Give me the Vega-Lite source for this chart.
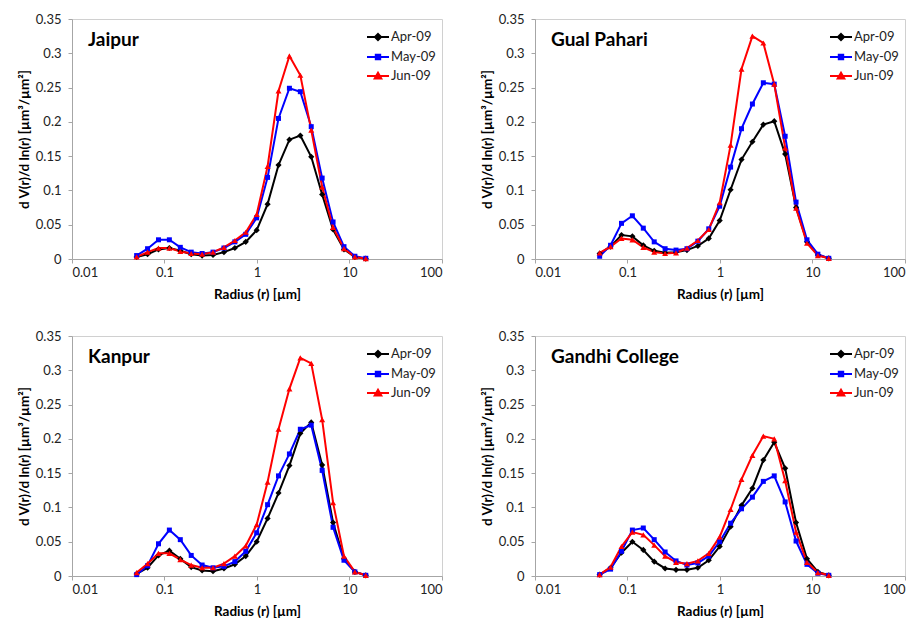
{
  "$schema": "https://vega.github.io/schema/vega-lite/v6.json",
  "padding": {"left": 16, "top": 12, "right": 0, "bottom": 0},
  "background": "white",
  "datasets": {
    "d": [
      {"site":"Jaipur","r":0.05,"Apr-09":0.003,"May-09":0.005,"Jun-09":0.003},
      {"site":"Jaipur","r":0.0656,"Apr-09":0.007,"May-09":0.015,"Jun-09":0.010},
      {"site":"Jaipur","r":0.0861,"Apr-09":0.014,"May-09":0.028,"Jun-09":0.016},
      {"site":"Jaipur","r":0.1129,"Apr-09":0.016,"May-09":0.028,"Jun-09":0.016},
      {"site":"Jaipur","r":0.1482,"Apr-09":0.012,"May-09":0.017,"Jun-09":0.011},
      {"site":"Jaipur","r":0.1945,"Apr-09":0.007,"May-09":0.010,"Jun-09":0.008},
      {"site":"Jaipur","r":0.2551,"Apr-09":0.005,"May-09":0.008,"Jun-09":0.007},
      {"site":"Jaipur","r":0.3347,"Apr-09":0.006,"May-09":0.010,"Jun-09":0.010},
      {"site":"Jaipur","r":0.4392,"Apr-09":0.010,"May-09":0.016,"Jun-09":0.017},
      {"site":"Jaipur","r":0.5763,"Apr-09":0.016,"May-09":0.025,"Jun-09":0.027},
      {"site":"Jaipur","r":0.7561,"Apr-09":0.025,"May-09":0.036,"Jun-09":0.039},
      {"site":"Jaipur","r":0.9921,"Apr-09":0.042,"May-09":0.060,"Jun-09":0.065},
      {"site":"Jaipur","r":1.3017,"Apr-09":0.080,"May-09":0.119,"Jun-09":0.135},
      {"site":"Jaipur","r":1.708,"Apr-09":0.137,"May-09":0.205,"Jun-09":0.245},
      {"site":"Jaipur","r":2.2411,"Apr-09":0.174,"May-09":0.249,"Jun-09":0.296},
      {"site":"Jaipur","r":2.9405,"Apr-09":0.180,"May-09":0.244,"Jun-09":0.268},
      {"site":"Jaipur","r":3.8582,"Apr-09":0.149,"May-09":0.193,"Jun-09":0.188},
      {"site":"Jaipur","r":5.0623,"Apr-09":0.094,"May-09":0.118,"Jun-09":0.105},
      {"site":"Jaipur","r":6.6423,"Apr-09":0.043,"May-09":0.054,"Jun-09":0.046},
      {"site":"Jaipur","r":8.7154,"Apr-09":0.014,"May-09":0.018,"Jun-09":0.015},
      {"site":"Jaipur","r":11.4354,"Apr-09":0.003,"May-09":0.004,"Jun-09":0.003},
      {"site":"Jaipur","r":15.0,"Apr-09":0.0005,"May-09":0.001,"Jun-09":0.0005},

      {"site":"Gual Pahari","r":0.05,"Apr-09":0.008,"May-09":0.004,"Jun-09":0.009},
      {"site":"Gual Pahari","r":0.0656,"Apr-09":0.018,"May-09":0.020,"Jun-09":0.018},
      {"site":"Gual Pahari","r":0.0861,"Apr-09":0.035,"May-09":0.052,"Jun-09":0.030},
      {"site":"Gual Pahari","r":0.1129,"Apr-09":0.033,"May-09":0.063,"Jun-09":0.028},
      {"site":"Gual Pahari","r":0.1482,"Apr-09":0.020,"May-09":0.045,"Jun-09":0.017},
      {"site":"Gual Pahari","r":0.1945,"Apr-09":0.012,"May-09":0.025,"Jun-09":0.010},
      {"site":"Gual Pahari","r":0.2551,"Apr-09":0.009,"May-09":0.015,"Jun-09":0.008},
      {"site":"Gual Pahari","r":0.3347,"Apr-09":0.010,"May-09":0.013,"Jun-09":0.009},
      {"site":"Gual Pahari","r":0.4392,"Apr-09":0.013,"May-09":0.015,"Jun-09":0.016},
      {"site":"Gual Pahari","r":0.5763,"Apr-09":0.019,"May-09":0.026,"Jun-09":0.027},
      {"site":"Gual Pahari","r":0.7561,"Apr-09":0.030,"May-09":0.044,"Jun-09":0.043},
      {"site":"Gual Pahari","r":0.9921,"Apr-09":0.056,"May-09":0.077,"Jun-09":0.082},
      {"site":"Gual Pahari","r":1.3017,"Apr-09":0.101,"May-09":0.134,"Jun-09":0.166},
      {"site":"Gual Pahari","r":1.708,"Apr-09":0.145,"May-09":0.190,"Jun-09":0.277},
      {"site":"Gual Pahari","r":2.2411,"Apr-09":0.171,"May-09":0.226,"Jun-09":0.325},
      {"site":"Gual Pahari","r":2.9405,"Apr-09":0.196,"May-09":0.257,"Jun-09":0.315},
      {"site":"Gual Pahari","r":3.8582,"Apr-09":0.201,"May-09":0.255,"Jun-09":0.255},
      {"site":"Gual Pahari","r":5.0623,"Apr-09":0.153,"May-09":0.179,"Jun-09":0.162},
      {"site":"Gual Pahari","r":6.6423,"Apr-09":0.075,"May-09":0.083,"Jun-09":0.074},
      {"site":"Gual Pahari","r":8.7154,"Apr-09":0.025,"May-09":0.028,"Jun-09":0.023},
      {"site":"Gual Pahari","r":11.4354,"Apr-09":0.006,"May-09":0.007,"Jun-09":0.005},
      {"site":"Gual Pahari","r":15.0,"Apr-09":0.001,"May-09":0.001,"Jun-09":0.001},

      {"site":"Kanpur","r":0.05,"Apr-09":0.003,"May-09":0.002,"Jun-09":0.005},
      {"site":"Kanpur","r":0.0656,"Apr-09":0.012,"May-09":0.015,"Jun-09":0.018},
      {"site":"Kanpur","r":0.0861,"Apr-09":0.030,"May-09":0.047,"Jun-09":0.033},
      {"site":"Kanpur","r":0.1129,"Apr-09":0.037,"May-09":0.067,"Jun-09":0.033},
      {"site":"Kanpur","r":0.1482,"Apr-09":0.025,"May-09":0.053,"Jun-09":0.024},
      {"site":"Kanpur","r":0.1945,"Apr-09":0.013,"May-09":0.030,"Jun-09":0.016},
      {"site":"Kanpur","r":0.2551,"Apr-09":0.008,"May-09":0.016,"Jun-09":0.012},
      {"site":"Kanpur","r":0.3347,"Apr-09":0.007,"May-09":0.012,"Jun-09":0.012},
      {"site":"Kanpur","r":0.4392,"Apr-09":0.011,"May-09":0.014,"Jun-09":0.018},
      {"site":"Kanpur","r":0.5763,"Apr-09":0.017,"May-09":0.021,"Jun-09":0.029},
      {"site":"Kanpur","r":0.7561,"Apr-09":0.029,"May-09":0.036,"Jun-09":0.044},
      {"site":"Kanpur","r":0.9921,"Apr-09":0.050,"May-09":0.063,"Jun-09":0.075},
      {"site":"Kanpur","r":1.3017,"Apr-09":0.084,"May-09":0.104,"Jun-09":0.137},
      {"site":"Kanpur","r":1.708,"Apr-09":0.121,"May-09":0.146,"Jun-09":0.214},
      {"site":"Kanpur","r":2.2411,"Apr-09":0.161,"May-09":0.178,"Jun-09":0.273},
      {"site":"Kanpur","r":2.9405,"Apr-09":0.208,"May-09":0.214,"Jun-09":0.318},
      {"site":"Kanpur","r":3.8582,"Apr-09":0.224,"May-09":0.220,"Jun-09":0.310},
      {"site":"Kanpur","r":5.0623,"Apr-09":0.162,"May-09":0.154,"Jun-09":0.228},
      {"site":"Kanpur","r":6.6423,"Apr-09":0.078,"May-09":0.071,"Jun-09":0.107},
      {"site":"Kanpur","r":8.7154,"Apr-09":0.025,"May-09":0.023,"Jun-09":0.029},
      {"site":"Kanpur","r":11.4354,"Apr-09":0.006,"May-09":0.006,"Jun-09":0.006},
      {"site":"Kanpur","r":15.0,"Apr-09":0.001,"May-09":0.001,"Jun-09":0.001},

      {"site":"Gandhi College","r":0.05,"Apr-09":0.002,"May-09":0.002,"Jun-09":0.002},
      {"site":"Gandhi College","r":0.0656,"Apr-09":0.012,"May-09":0.010,"Jun-09":0.013},
      {"site":"Gandhi College","r":0.0861,"Apr-09":0.034,"May-09":0.036,"Jun-09":0.043},
      {"site":"Gandhi College","r":0.1129,"Apr-09":0.050,"May-09":0.067,"Jun-09":0.064},
      {"site":"Gandhi College","r":0.1482,"Apr-09":0.038,"May-09":0.070,"Jun-09":0.060},
      {"site":"Gandhi College","r":0.1945,"Apr-09":0.021,"May-09":0.053,"Jun-09":0.045},
      {"site":"Gandhi College","r":0.2551,"Apr-09":0.011,"May-09":0.035,"Jun-09":0.029},
      {"site":"Gandhi College","r":0.3347,"Apr-09":0.009,"May-09":0.022,"Jun-09":0.020},
      {"site":"Gandhi College","r":0.4392,"Apr-09":0.009,"May-09":0.016,"Jun-09":0.018},
      {"site":"Gandhi College","r":0.5763,"Apr-09":0.012,"May-09":0.019,"Jun-09":0.022},
      {"site":"Gandhi College","r":0.7561,"Apr-09":0.023,"May-09":0.029,"Jun-09":0.033},
      {"site":"Gandhi College","r":0.9921,"Apr-09":0.043,"May-09":0.050,"Jun-09":0.057},
      {"site":"Gandhi College","r":1.3017,"Apr-09":0.072,"May-09":0.077,"Jun-09":0.097},
      {"site":"Gandhi College","r":1.708,"Apr-09":0.103,"May-09":0.098,"Jun-09":0.141},
      {"site":"Gandhi College","r":2.2411,"Apr-09":0.128,"May-09":0.115,"Jun-09":0.176},
      {"site":"Gandhi College","r":2.9405,"Apr-09":0.169,"May-09":0.138,"Jun-09":0.204},
      {"site":"Gandhi College","r":3.8582,"Apr-09":0.195,"May-09":0.146,"Jun-09":0.200},
      {"site":"Gandhi College","r":5.0623,"Apr-09":0.157,"May-09":0.108,"Jun-09":0.139},
      {"site":"Gandhi College","r":6.6423,"Apr-09":0.078,"May-09":0.051,"Jun-09":0.064},
      {"site":"Gandhi College","r":8.7154,"Apr-09":0.025,"May-09":0.017,"Jun-09":0.020},
      {"site":"Gandhi College","r":11.4354,"Apr-09":0.006,"May-09":0.004,"Jun-09":0.005},
      {"site":"Gandhi College","r":15.0,"Apr-09":0.001,"May-09":0.001,"Jun-09":0.001}
    ]
  },
  "columns": 2,
  "spacing": {"row": 28, "column": 36},
  "concat": [
    {
      "width": 370, "height": 240,
      "title": {"text": "Jaipur"},
      "data": {"name": "d"},
      "transform": [{"filter": "datum.site === 'Jaipur'"}, {"fold": ["Apr-09", "May-09", "Jun-09"], "as": ["month", "v"]}],
      "encoding": {
        "x": {"field": "r", "type": "quantitative", "scale": {"type": "log", "domain": [0.01, 100]}, "axis": {"title": "Radius (r) [µm]", "values": [0.01, 0.1, 1, 10, 100], "format": "~g"}},
        "y": {"field": "v", "type": "quantitative", "scale": {"domain": [0, 0.35]}, "axis": {"title": "d V(r)/d ln(r) [µm³/µm²]", "values": [0, 0.05, 0.1, 0.15, 0.2, 0.25, 0.3, 0.35], "format": "~g"}},
        "color": {"field": "month", "type": "nominal", "scale": {"domain": ["Apr-09", "May-09", "Jun-09"], "range": ["#000000", "#0000FF", "#FF0000"]},
          "legend": {"title": null, "encode": {"symbols": {"update": {
            "shape": {"signal": "datum.value === 'Apr-09' ? 'M-1,0H1M0,-0.28L0.28,0L0,0.28L-0.28,0Z' : datum.value === 'May-09' ? 'M-1,0H1M-0.2,-0.2H0.2V0.2H-0.2Z' : 'M-1,0H1M0,-0.3L0.3,0.22H-0.3Z'"},
            "fill": {"signal": "datum.value === 'Apr-09' ? '#000000' : datum.value === 'May-09' ? '#0000FF' : '#FF0000'"},
            "stroke": {"signal": "datum.value === 'Apr-09' ? '#000000' : datum.value === 'May-09' ? '#0000FF' : '#FF0000'"},
            "size": {"value": 484}, "strokeWidth": {"value": 2}, "opacity": {"value": 1}, "fillOpacity": {"value": 1}, "strokeOpacity": {"value": 1}}}}}}
      },
      "layer": [
        {"mark": {"type": "line", "strokeWidth": 2}},
        {"transform": [{"filter": "datum.month === 'Apr-09'"}], "mark": {"type": "point", "shape": "diamond", "size": 38, "filled": true, "opacity": 1}},
        {"transform": [{"filter": "datum.month === 'May-09'"}], "mark": {"type": "point", "shape": "square", "size": 25, "filled": true, "opacity": 1}},
        {"transform": [{"filter": "datum.month === 'Jun-09'"}], "mark": {"type": "point", "shape": "triangle-up", "size": 36, "filled": true, "opacity": 1}}
      ]
    },
    {
      "width": 370, "height": 240,
      "title": {"text": "Gual Pahari"},
      "data": {"name": "d"},
      "transform": [{"filter": "datum.site === 'Gual Pahari'"}, {"fold": ["Apr-09", "May-09", "Jun-09"], "as": ["month", "v"]}],
      "encoding": {
        "x": {"field": "r", "type": "quantitative", "scale": {"type": "log", "domain": [0.01, 100]}, "axis": {"title": "Radius (r) [µm]", "values": [0.01, 0.1, 1, 10, 100], "format": "~g"}},
        "y": {"field": "v", "type": "quantitative", "scale": {"domain": [0, 0.35]}, "axis": {"title": "d V(r)/d ln(r) [µm³/µm²]", "values": [0, 0.05, 0.1, 0.15, 0.2, 0.25, 0.3, 0.35], "format": "~g"}},
        "color": {"field": "month", "type": "nominal", "scale": {"domain": ["Apr-09", "May-09", "Jun-09"], "range": ["#000000", "#0000FF", "#FF0000"]},
          "legend": {"title": null, "encode": {"symbols": {"update": {
            "shape": {"signal": "datum.value === 'Apr-09' ? 'M-1,0H1M0,-0.28L0.28,0L0,0.28L-0.28,0Z' : datum.value === 'May-09' ? 'M-1,0H1M-0.2,-0.2H0.2V0.2H-0.2Z' : 'M-1,0H1M0,-0.3L0.3,0.22H-0.3Z'"},
            "fill": {"signal": "datum.value === 'Apr-09' ? '#000000' : datum.value === 'May-09' ? '#0000FF' : '#FF0000'"},
            "stroke": {"signal": "datum.value === 'Apr-09' ? '#000000' : datum.value === 'May-09' ? '#0000FF' : '#FF0000'"},
            "size": {"value": 484}, "strokeWidth": {"value": 2}, "opacity": {"value": 1}, "fillOpacity": {"value": 1}, "strokeOpacity": {"value": 1}}}}}}
      },
      "layer": [
        {"mark": {"type": "line", "strokeWidth": 2}},
        {"transform": [{"filter": "datum.month === 'Apr-09'"}], "mark": {"type": "point", "shape": "diamond", "size": 38, "filled": true, "opacity": 1}},
        {"transform": [{"filter": "datum.month === 'May-09'"}], "mark": {"type": "point", "shape": "square", "size": 25, "filled": true, "opacity": 1}},
        {"transform": [{"filter": "datum.month === 'Jun-09'"}], "mark": {"type": "point", "shape": "triangle-up", "size": 36, "filled": true, "opacity": 1}}
      ]
    },
    {
      "width": 370, "height": 240,
      "title": {"text": "Kanpur"},
      "data": {"name": "d"},
      "transform": [{"filter": "datum.site === 'Kanpur'"}, {"fold": ["Apr-09", "May-09", "Jun-09"], "as": ["month", "v"]}],
      "encoding": {
        "x": {"field": "r", "type": "quantitative", "scale": {"type": "log", "domain": [0.01, 100]}, "axis": {"title": "Radius (r) [µm]", "values": [0.01, 0.1, 1, 10, 100], "format": "~g"}},
        "y": {"field": "v", "type": "quantitative", "scale": {"domain": [0, 0.35]}, "axis": {"title": "d V(r)/d ln(r) [µm³/µm²]", "values": [0, 0.05, 0.1, 0.15, 0.2, 0.25, 0.3, 0.35], "format": "~g"}},
        "color": {"field": "month", "type": "nominal", "scale": {"domain": ["Apr-09", "May-09", "Jun-09"], "range": ["#000000", "#0000FF", "#FF0000"]},
          "legend": {"title": null, "encode": {"symbols": {"update": {
            "shape": {"signal": "datum.value === 'Apr-09' ? 'M-1,0H1M0,-0.28L0.28,0L0,0.28L-0.28,0Z' : datum.value === 'May-09' ? 'M-1,0H1M-0.2,-0.2H0.2V0.2H-0.2Z' : 'M-1,0H1M0,-0.3L0.3,0.22H-0.3Z'"},
            "fill": {"signal": "datum.value === 'Apr-09' ? '#000000' : datum.value === 'May-09' ? '#0000FF' : '#FF0000'"},
            "stroke": {"signal": "datum.value === 'Apr-09' ? '#000000' : datum.value === 'May-09' ? '#0000FF' : '#FF0000'"},
            "size": {"value": 484}, "strokeWidth": {"value": 2}, "opacity": {"value": 1}, "fillOpacity": {"value": 1}, "strokeOpacity": {"value": 1}}}}}}
      },
      "layer": [
        {"mark": {"type": "line", "strokeWidth": 2}},
        {"transform": [{"filter": "datum.month === 'Apr-09'"}], "mark": {"type": "point", "shape": "diamond", "size": 38, "filled": true, "opacity": 1}},
        {"transform": [{"filter": "datum.month === 'May-09'"}], "mark": {"type": "point", "shape": "square", "size": 25, "filled": true, "opacity": 1}},
        {"transform": [{"filter": "datum.month === 'Jun-09'"}], "mark": {"type": "point", "shape": "triangle-up", "size": 36, "filled": true, "opacity": 1}}
      ]
    },
    {
      "width": 370, "height": 240,
      "title": {"text": "Gandhi College"},
      "data": {"name": "d"},
      "transform": [{"filter": "datum.site === 'Gandhi College'"}, {"fold": ["Apr-09", "May-09", "Jun-09"], "as": ["month", "v"]}],
      "encoding": {
        "x": {"field": "r", "type": "quantitative", "scale": {"type": "log", "domain": [0.01, 100]}, "axis": {"title": "Radius (r) [µm]", "values": [0.01, 0.1, 1, 10, 100], "format": "~g"}},
        "y": {"field": "v", "type": "quantitative", "scale": {"domain": [0, 0.35]}, "axis": {"title": "d V(r)/d ln(r) [µm³/µm²]", "values": [0, 0.05, 0.1, 0.15, 0.2, 0.25, 0.3, 0.35], "format": "~g"}},
        "color": {"field": "month", "type": "nominal", "scale": {"domain": ["Apr-09", "May-09", "Jun-09"], "range": ["#000000", "#0000FF", "#FF0000"]},
          "legend": {"title": null, "encode": {"symbols": {"update": {
            "shape": {"signal": "datum.value === 'Apr-09' ? 'M-1,0H1M0,-0.28L0.28,0L0,0.28L-0.28,0Z' : datum.value === 'May-09' ? 'M-1,0H1M-0.2,-0.2H0.2V0.2H-0.2Z' : 'M-1,0H1M0,-0.3L0.3,0.22H-0.3Z'"},
            "fill": {"signal": "datum.value === 'Apr-09' ? '#000000' : datum.value === 'May-09' ? '#0000FF' : '#FF0000'"},
            "stroke": {"signal": "datum.value === 'Apr-09' ? '#000000' : datum.value === 'May-09' ? '#0000FF' : '#FF0000'"},
            "size": {"value": 484}, "strokeWidth": {"value": 2}, "opacity": {"value": 1}, "fillOpacity": {"value": 1}, "strokeOpacity": {"value": 1}}}}}}
      },
      "layer": [
        {"mark": {"type": "line", "strokeWidth": 2}},
        {"transform": [{"filter": "datum.month === 'Apr-09'"}], "mark": {"type": "point", "shape": "diamond", "size": 38, "filled": true, "opacity": 1}},
        {"transform": [{"filter": "datum.month === 'May-09'"}], "mark": {"type": "point", "shape": "square", "size": 25, "filled": true, "opacity": 1}},
        {"transform": [{"filter": "datum.month === 'Jun-09'"}], "mark": {"type": "point", "shape": "triangle-up", "size": 36, "filled": true, "opacity": 1}}
      ]
    }
  ],
  "resolve": {
    "scale": {"x": "independent", "y": "independent", "color": "independent"},
    "legend": {"color": "independent"}
  },
  "config": {
    "font": "Lato",
    "view": {"stroke": "#d0d0d0", "strokeWidth": 1},
    "title": {"anchor": "start", "frame": "group", "orient": "top", "offset": -37, "baseline": "alphabetic", "dx": 16, "fontSize": 19, "fontWeight": "bold", "font": "Lato", "color": "#000000"},
    "axis": {
      "grid": false,
      "domainColor": "#a6a6a6",
      "tickColor": "#a6a6a6",
      "tickSize": 4,
      "labelFont": "Lato",
      "labelFontSize": 13,
      "labelColor": "#222222",
      "titleFont": "Lato",
      "titleFontSize": 13.5,
      "titleFontWeight": "bold",
      "titleColor": "#000000"
    },
    "axisX": {"labelPadding": 3, "titlePadding": 8},
    "axisY": {"labelPadding": 7, "titlePadding": 4},
    "legend": {
      "orient": "top-right",
      "offset": 6,
      "padding": 0,
      "rowPadding": 0,
      "labelFont": "Lato",
      "labelFontSize": 13,
      "labelColor": "#222222",
      "labelOffset": 1,
      "symbolType": "M-1,0H1",
      "symbolSize": 484,
      "symbolStrokeWidth": 2
    }
  }
}
